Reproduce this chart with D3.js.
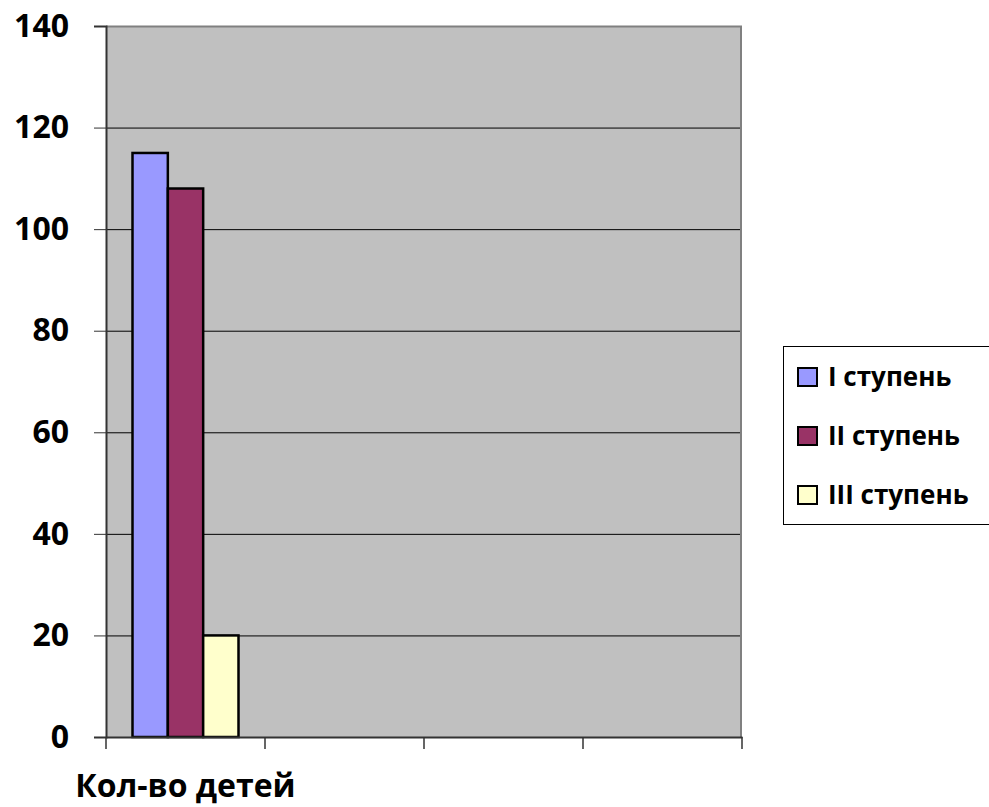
<!DOCTYPE html>
<html>
<head>
<meta charset="utf-8">
<script src="https://cdn.jsdelivr.net/npm/d3@7"></script>
<style>
  body { margin: 0; background: #fff; }
  svg text { font-family: "Open Sans", sans-serif; font-weight: bold; fill: #000; }
</style>
</head>
<body>
<svg width="989" height="807"></svg>
<script>
// data
var categories = ['Кол-во детей', 'c2', 'c3', 'c4']
var categoryLabels = ['Кол-во детей', '', '', '']
var seriesNames = ['I ступень', 'II ступень', 'III ступень']
var seriesValues = [[115], [108], [20]]
var seriesColors = ['#9999FF', '#993366', '#FFFFCC']
var yTicks = [0, 20, 40, 60, 80, 100, 120, 140]

var svg = d3.select('svg'),
  margin = {top: 26, right: 247, bottom: 70, left: 106},
  width = +svg.attr('width') - margin.left - margin.right,
  height = +svg.attr('height') - margin.top - margin.bottom,
  g = svg.append('g').attr('transform', 'translate(' + margin.left + ',' + margin.top + ')')

var x = d3.scaleBand().domain(categories).range([0, width])
// 3 bars centered in the band, gap = 0.75 bar on each side
var barW = x.bandwidth() / (3 + 1.5)
var x1 = d3.scaleBand().domain(seriesNames)
  .range([barW * 0.75, x.bandwidth() - barW * 0.75])
var y = d3.scaleLinear().domain([0, 140]).range([height, 0])

// plot background
g.append('rect')
  .attr('width', width).attr('height', height)
  .attr('fill', '#C0C0C0')

// gridlines
g.append('g').selectAll('line')
  .data(yTicks.filter(function(d) { return d > 0 && d < 140 }))
  .enter().append('line')
  .attr('x1', 0).attr('x2', width)
  .attr('y1', function(d) { return y(d) + 0.5 }).attr('y2', function(d) { return y(d) + 0.5 })
  .attr('stroke', '#000').attr('stroke-width', 1)

// top/right border
g.append('path')
  .attr('d', 'M0,0.5H' + (width - 1) + 'V' + height)
  .attr('fill', 'none').attr('stroke', '#808080').attr('stroke-width', 2)

// bars
seriesNames.forEach(function(s, si) {
  g.append('g').selectAll('rect')
    .data(seriesValues[si])
    .enter().append('rect')
    .attr('x', function(d, i) { return x(categories[i]) + x1(s) })
    .attr('y', function(d) { return y(d) })
    .attr('width', x1.bandwidth())
    .attr('height', function(d) { return height - y(d) })
    .attr('fill', seriesColors[si])
    .attr('stroke', '#000').attr('stroke-width', 2.5)
})

// y axis
var yAxis = g.append('g')
  .call(d3.axisLeft(y).tickValues(yTicks).tickSize(12).tickPadding(25))
yAxis.select('.domain').attr('stroke', '#333').attr('stroke-width', 2)
yAxis.selectAll('.tick line').attr('stroke', '#333')
yAxis.selectAll('text').style('font-size', '32px')

// x axis
var xAxis = g.append('g')
  .attr('transform', 'translate(0,' + height + ')')
  .call(d3.axisBottom(x).tickValues([]).tickSizeOuter(0))
xAxis.select('.domain').attr('stroke', '#333').attr('stroke-width', 2)
var xt = d3.range(categories.length + 1).map(function(i) { return i * x.step() })
xAxis.selectAll('.xtick').data(xt).enter().append('line')
  .attr('x1', function(d) { return d }).attr('x2', function(d) { return d })
  .attr('y1', 0).attr('y2', 12)
  .attr('stroke', '#333').attr('stroke-width', 1.5)
xAxis.selectAll('.xlabel').data(categories).enter().append('text')
  .attr('x', function(d) { return x(d) + x.bandwidth() / 2 })
  .attr('y', 60)
  .attr('text-anchor', 'middle')
  .style('font-size', '32px')
  .text(function(d, i) { return categoryLabels[i] })

// legend
var legend = svg.append('g').attr('transform', 'translate(783,346)')
legend.append('rect')
  .attr('x', 0.5).attr('y', 0.5).attr('width', 210).attr('height', 178)
  .attr('fill', '#fff').attr('stroke', '#000').attr('stroke-width', 1)
var li = legend.selectAll('.item').data(seriesNames).enter().append('g')
  .attr('transform', function(d, i) { return 'translate(15,' + (31 + i * 59) + ')' })
li.append('rect')
  .attr('x', 0).attr('y', -9).attr('width', 19).attr('height', 18)
  .attr('fill', function(d, i) { return seriesColors[i] })
  .attr('stroke', '#000').attr('stroke-width', 2)
li.append('text')
  .attr('x', 30).attr('y', 0).attr('dy', '0.35em')
  .style('font-size', '26px')
  .text(function(d) { return d })
</script>
</body>
</html>
